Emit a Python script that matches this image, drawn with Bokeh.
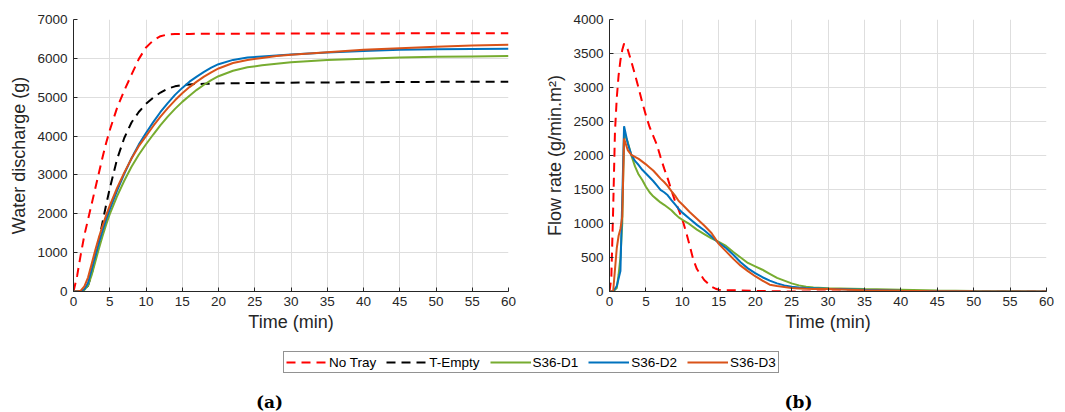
from bokeh.plotting import figure
from bokeh.models import Range1d, FixedTicker, Legend, LegendItem, Label
from bokeh.layouts import column, row
from bokeh.embed import file_html
from bokeh.resources import INLINE

# ---- cumulative water discharge (g) ----
t_cum = [0, 0.5, 1, 1.5, 2, 2.5, 3, 3.5, 4, 4.5, 5, 6, 7, 8, 9, 10, 11, 12, 13, 14, 15,
         16, 17, 18, 19, 20, 22, 24, 26, 28, 30, 35, 40, 45, 50, 55, 60]
cum_no_tray = [0, 400, 950, 1450, 1850, 2250, 2650, 3050, 3450, 3820, 4150, 4720, 5170, 5580,
               5980, 6280, 6460, 6570, 6615, 6625, 6630, 6630, 6632, 6633, 6634, 6635, 6636,
               6637, 6638, 6639, 6640, 6641, 6642, 6643, 6644, 6645, 6645]
cum_t_empty = [0, 0, 0, 30, 150, 450, 850, 1300, 1780, 2230, 2650, 3400, 3950, 4350, 4620, 4830,
               4990, 5120, 5220, 5280, 5310, 5330, 5340, 5345, 5350, 5355, 5360, 5365, 5370,
               5372, 5375, 5380, 5385, 5390, 5395, 5400, 5400]
cum_d1 = [0, 0, 5, 40, 150, 420, 760, 1100, 1420, 1720, 1990, 2450, 2850, 3210, 3520, 3790, 4040,
          4280, 4500, 4700, 4880, 5040, 5190, 5320, 5440, 5540, 5680, 5770, 5820, 5860, 5900,
          5960, 5990, 6020, 6040, 6050, 6060]
cum_d2 = [0, 0, 10, 60, 220, 560, 910, 1250, 1560, 1850, 2110, 2590, 3030, 3430, 3780, 4080, 4360,
          4620, 4850, 5060, 5240, 5400, 5530, 5650, 5760, 5850, 5960, 6020, 6050, 6075, 6100,
          6150, 6190, 6220, 6235, 6240, 6245]
cum_d3 = [0, 0, 20, 130, 360, 710, 1060, 1390, 1690, 1960, 2210, 2660, 3060, 3420, 3740, 4000,
          4260, 4500, 4720, 4920, 5100, 5260, 5400, 5530, 5640, 5740, 5880, 5960, 6010, 6060,
          6090, 6160, 6220, 6260, 6300, 6330, 6350]

# ---- flow rate (g/min.m2) ----
t_flow_no_tray = [0, 0.25, 0.5, 0.75, 1, 1.25, 1.5, 1.75, 2, 2.5, 3, 3.5, 4, 4.5, 5, 5.5, 6,
                  6.5, 7, 7.5, 8, 8.5, 9, 9.5, 10, 10.5, 11, 11.5, 12, 12.5, 13, 13.5, 14, 14.5,
                  15, 16, 18, 20, 25, 30, 35, 40, 45, 50, 55, 60]
flow_no_tray = [0, 200, 1200, 2350, 2850, 3180, 3400, 3550, 3645, 3560, 3380, 3190, 2990, 2780,
                2590, 2420, 2290, 2160, 1980, 1810, 1660, 1490, 1330, 1200, 1060, 880, 680, 470,
                330, 250, 170, 120, 70, 45, 25, 20, 15, 8, 0, 0, 0, 0, 0, 0, 0, 0]

t_flow = [0, 0.5, 1, 1.25, 1.5, 1.75, 2, 2.5, 3, 3.5, 4, 4.5, 5, 5.5, 6, 6.5, 7, 7.5, 8, 8.5, 9,
          9.5, 10, 11, 12, 13, 14, 15, 16, 17, 18, 19, 20, 21, 22, 23, 24, 25, 26, 27, 28, 30,
          35, 40, 45, 50, 55, 60]
flow_d1 = [0, 0, 50, 250, 500, 1000, 2330, 2200, 2000, 1840, 1720, 1640, 1540, 1460, 1400, 1355,
           1310, 1275, 1235, 1195, 1140, 1090, 1055, 990, 910, 845, 780, 730, 670, 580, 500,
           420, 370, 320, 260, 200, 160, 120, 90, 70, 58, 48, 35, 25, 15, 8, 3, 0]
flow_d2 = [0, 0, 80, 190, 300, 1350, 2430, 2180, 2010, 1920, 1860, 1790, 1735, 1680, 1625, 1560,
           1495, 1460, 1415, 1345, 1280, 1215, 1160, 1070, 980, 900, 810, 715, 640, 540, 430,
           340, 270, 210, 160, 120, 90, 70, 58, 52, 48, 40, 25, 12, 6, 3, 1, 0]
flow_d3 = [0, 0, 640, 820, 920, 1100, 2250, 2080, 2010, 1980, 1950, 1910, 1870, 1825, 1780, 1720,
           1660, 1610, 1550, 1475, 1410, 1330, 1280, 1170, 1070, 970, 860, 700, 590, 480, 380,
           300, 225, 160, 100, 80, 65, 50, 45, 40, 38, 35, 20, 10, 5, 2, 1, 0]

x_ticks = [0, 5, 10, 15, 20, 25, 30, 35, 40, 45, 50, 55, 60]
x_tick_labels = ["0", "5", "10", "15", "20", "25", "30", "35", "40", "45", "50", "55", "60"]
y_ticks_a = [0, 1000, 2000, 3000, 4000, 5000, 6000, 7000]
y_tick_labels_a = ["0", "1000", "2000", "3000", "4000", "5000", "6000", "7000"]
y_ticks_b = [0, 500, 1000, 1500, 2000, 2500, 3000, 3500, 4000]
y_tick_labels_b = ["0", "500", "1000", "1500", "2000", "2500", "3000", "3500", "4000"]

series_names = ["No Tray", "T-Empty", "S36-D1", "S36-D2", "S36-D3"]
series_colors = ["#FF0000", "#000000", "#77AC30", "#0072BD", "#D95319"]
series_dashes = ["9 6", "9 6", "solid", "solid", "solid"]

SANS = "Liberation Sans"
INK = "#262626"


def style_axes(p, yticks, ylabels, ylabel):
    p.xaxis.ticker = FixedTicker(ticks=x_ticks)
    p.yaxis.ticker = FixedTicker(ticks=yticks)
    p.xaxis.major_label_overrides = dict(zip(x_ticks, x_tick_labels))
    p.yaxis.major_label_overrides = dict(zip(yticks, ylabels))
    p.xaxis.axis_label = "Time (min)"
    p.yaxis.axis_label = ylabel
    for ax in (p.xaxis, p.yaxis):
        ax.axis_line_color = INK
        ax.axis_line_width = 1
        ax.major_tick_line_color = INK
        ax.major_tick_in = 4
        ax.major_tick_out = 0
        ax.minor_tick_line_color = None
        ax.major_label_text_font = SANS
        ax.major_label_text_font_size = "13.5px"
        ax.major_label_text_color = INK
        ax.axis_label_text_font = SANS
        ax.axis_label_text_font_size = "18px"
        ax.axis_label_text_font_style = "normal"
        ax.axis_label_text_color = INK
    p.xaxis.major_label_standoff = 5
    p.yaxis.major_label_standoff = 6
    p.xaxis.axis_label_standoff = 3
    p.yaxis.axis_label_standoff = 5
    p.grid.grid_line_color = "#dedede"
    p.grid.grid_line_width = 1
    p.outline_line_color = None


# ---- (a) water discharge ----
pa = figure(width=530, height=340, x_range=Range1d(0, 60), y_range=Range1d(0, 7000),
            output_backend="svg", toolbar_location=None,
            min_border_left=73, min_border_right=22, min_border_top=19, min_border_bottom=49)
style_axes(pa, y_ticks_a, y_tick_labels_a, "Water discharge (g)")
cum_series = [cum_no_tray, cum_t_empty, cum_d1, cum_d2, cum_d3]
for vals, color, dash in zip(cum_series, series_colors, series_dashes):
    pa.line(t_cum, vals, line_color=color, line_width=2, line_dash=dash)

# ---- (b) flow rate ----
pb = figure(width=535, height=340, x_range=Range1d(0, 60), y_range=Range1d(0, 4000),
            output_backend="svg", toolbar_location=None,
            min_border_left=79, min_border_right=19, min_border_top=19, min_border_bottom=48)
style_axes(pb, y_ticks_b, y_tick_labels_b, "Flow rate (g/min.m\u00b2)")
pb.line(t_flow_no_tray, flow_no_tray, line_color=series_colors[0], line_width=2,
        line_dash=series_dashes[0])
for vals, color in zip([flow_d1, flow_d2, flow_d3], series_colors[2:]):
    pb.line(t_flow, vals, line_color=color, line_width=2)

# ---- shared legend and panel captions ----
pl = figure(width=1065, height=72, x_range=Range1d(0, 1), y_range=Range1d(0, 1),
            output_backend="svg", toolbar_location=None, min_border=0,
            x_axis_location=None, y_axis_location=None)
pl.grid.visible = False
pl.outline_line_color = None
nan = float("nan")
items = []
for name, color, dash in zip(series_names, series_colors, series_dashes):
    # placeholder renderer that only supplies the legend swatch
    r = pl.line(x=[nan], y=[nan], line_color=color, line_width=2, line_dash=dash)
    items.append(LegendItem(label=name, renderers=[r]))
legend = Legend(items=items, orientation="horizontal", location=(283, 39),
                border_line_color=INK, border_line_width=1,
                background_fill_color="white", background_fill_alpha=1,
                padding=2, spacing=10, margin=0, glyph_width=41, glyph_height=16,
                label_standoff=2, label_height=16,
                label_text_font=SANS, label_text_font_size="13.5px",
                label_text_color="#000000")
pl.add_layout(legend)

for txt, xc in (("(a)", 269), ("(b)", 798)):
    pl.add_layout(Label(x=xc, y=11, x_units="screen", y_units="screen", text=txt,
                        text_align="center", text_baseline="middle",
                        text_font="DejaVu Serif", text_font_style="bold",
                        text_font_size="17px", text_color="#000000"))

layout = column(row(pa, pb), pl)
open("out.html", "w").write(file_html(layout, INLINE))
